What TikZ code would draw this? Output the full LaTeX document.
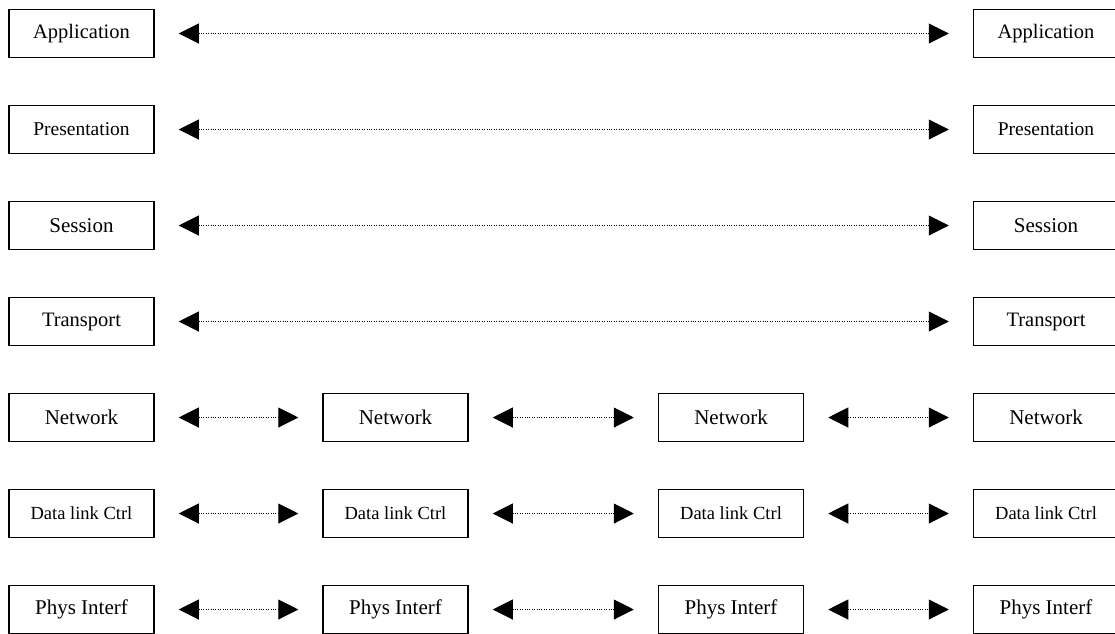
\documentclass[tikz,border=0pt]{standalone}
\usepackage{fontspec}
\setmainfont{Liberation Serif}
\usetikzlibrary{arrows.meta}
\begin{document}
\begin{tikzpicture}[x=1pt,y=-1pt,
  layer/.style={draw, line width=1.5pt, minimum width=145pt, minimum height=48pt, inner sep=0pt},
  fA/.style={font=\fontsize{20.5}{24}\selectfont},
  fB/.style={font=\fontsize{19.5}{24}\selectfont},
  fC/.style={font=\fontsize{18.5}{22}\selectfont},
  fD/.style={font=\fontsize{21}{24}\selectfont},
  peer/.style={line width=1pt, dash pattern=on 1pt off 1.4pt,
    {Triangle[length=20pt,width=20pt]}-{Triangle[length=20pt,width=20pt]},
    shorten <=24pt, shorten >=24pt}]
\useasboundingbox (0,0) rectangle (1115,633);
% end systems: full seven-layer stacks
\foreach \n/\t/\f/\y in {ap/Application/fA/33.5, pr/Presentation/fB/129.5, se/Session/fD/225.5, tr/Transport/fA/321.5}{
  \node[layer,\f] (\n1) at (81.5,\y) {\t};
  \node[layer,\f] (\n4) at (1046,\y) {\t};
  \draw[peer] (\n1.east) -- (\n4.west);
}
% lower three layers in every node along the path
\foreach \n/\t/\f/\y in {nw/Network/fD/417.5, dl/Data link Ctrl/fC/513.5, ph/Phys Interf/fD/609.5}{
  \node[layer,\f] (\n1) at (81.5,\y) {\t};
  \node[layer,\f] (\n2) at (395.5,\y) {\t};
  \node[layer,\f] (\n3) at (731,\y) {\t};
  \node[layer,\f] (\n4) at (1046,\y) {\t};
  \draw[peer] (\n1.east) -- (\n2.west);
  \draw[peer] (\n2.east) -- (\n3.west);
  \draw[peer] (\n3.east) -- (\n4.west);
}
\end{tikzpicture}
\end{document}
